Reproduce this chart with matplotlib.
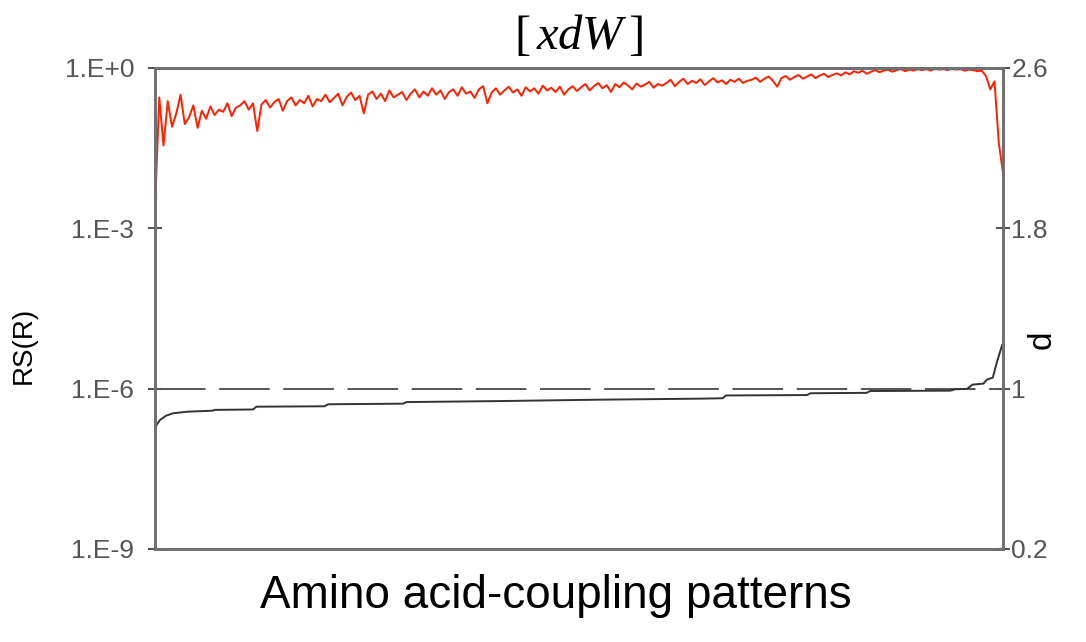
import numpy as np
import matplotlib.pyplot as plt

plt.rcParams["font.family"] = ["Liberation Sans", "DejaVu Sans"]
plt.rcParams["mathtext.fontset"] = "custom"
plt.rcParams["mathtext.rm"] = "Liberation Serif"
plt.rcParams["mathtext.it"] = "Liberation Serif:italic"

# RS(R) for the sorted patterns, log10 values, one sample every 5 patterns
rs_log = [
    -2.66, -0.55, -1.45, -0.62, -1.10, -0.85, -0.50, -1.05, -0.92, -0.70,
    -1.12, -0.80, -0.95, -0.72, -0.88, -0.78, -0.82, -0.66, -0.90, -0.74,
    -0.70, -0.62, -0.78, -0.66, -1.18, -0.68, -0.60, -0.74, -0.64, -0.58,
    -0.80, -0.62, -0.55, -0.70, -0.60, -0.66, -0.52, -0.72, -0.58, -0.62,
    -0.50, -0.64, -0.56, -0.48, -0.70, -0.54, -0.46, -0.60, -0.52, -0.85,
    -0.50, -0.44, -0.58, -0.48, -0.62, -0.42, -0.55, -0.50, -0.45, -0.60,
    -0.48, -0.40, -0.55, -0.44, -0.52, -0.38, -0.50, -0.42, -0.58, -0.45,
    -0.40, -0.52, -0.36, -0.48, -0.44, -0.56, -0.40, -0.34, -0.66, -0.46,
    -0.38, -0.50, -0.42, -0.35, -0.46, -0.40, -0.52, -0.36, -0.44, -0.38,
    -0.48, -0.33, -0.42, -0.37, -0.45, -0.35, -0.50, -0.40, -0.34, -0.43,
    -0.36, -0.30, -0.42, -0.34, -0.28, -0.38, -0.32, -0.45, -0.30, -0.36,
    -0.27, -0.33, -0.40, -0.29, -0.35, -0.31, -0.26, -0.37, -0.30, -0.33,
    -0.28, -0.22, -0.34, -0.26, -0.20, -0.30, -0.24, -0.28, -0.21, -0.32,
    -0.25, -0.19, -0.27, -0.23, -0.30, -0.22, -0.26, -0.20, -0.28, -0.24,
    -0.22, -0.18, -0.26, -0.20, -0.16, -0.24, -0.35, -0.19, -0.15, -0.22,
    -0.17, -0.13, -0.20, -0.16, -0.12, -0.19, -0.14, -0.11, -0.17, -0.13,
    -0.10, -0.14, -0.08, -0.12, -0.06, -0.09, -0.05, -0.11, -0.07, -0.04,
    -0.08, -0.05, -0.03, -0.07, -0.04, -0.02, -0.06, -0.03, -0.05, -0.02,
    -0.04, -0.02, -0.05, -0.01, -0.03, -0.02, -0.04, -0.01, -0.03, -0.02,
    -0.05, -0.03, -0.04, -0.06, -0.05, -0.15, -0.40, -0.25, -1.40, -1.97,
]
rs_step = 5

# d for the same patterns (rank, value)
d_rank = [0, 2, 6, 13, 21, 38, 68, 70, 115, 119, 199, 203, 291, 295, 405,
          522, 639, 666, 670, 765, 769, 835, 839, 933, 939, 953, 959, 972,
          976, 983, 988, 994]
d_vals = [0.794, 0.82, 0.844, 0.865, 0.877, 0.885, 0.890, 0.894, 0.896,
          0.910, 0.912, 0.922, 0.925, 0.933, 0.938, 0.945, 0.950, 0.952,
          0.966, 0.968, 0.977, 0.979, 0.988, 0.990, 0.997, 0.999, 1.02,
          1.025, 1.045, 1.055, 1.135, 1.218]
d_ref = 1.0

left_ticks = [1e-9, 1e-6, 1e-3, 1e0]
left_labels = ["1.E-9", "1.E-6", "1.E-3", "1.E+0"]
right_ticks = [0.2, 1.0, 1.8, 2.6]
right_labels = ["0.2", "1", "1.8", "2.6"]

rank = np.arange(len(rs_log)) * rs_step
rs = 10.0 ** np.array(rs_log)

fig = plt.figure(figsize=(10.86, 6.42), dpi=100)
ax = fig.add_axes([0.1427, 0.1449, 0.7809, 0.7492])
ax2 = ax.twinx()

ax.plot(rank, rs, color="#ff2000", lw=1.4, zorder=3)
ax.set_yscale("log")
ax.set_ylim(1e-9, 1e0)
ax.set_xlim(0, rank[-1])
ax.set_yticks(left_ticks)
ax.set_yticklabels(left_labels)
ax.minorticks_off()
ax.set_xticks([])

ax2.axhline(d_ref, color="#555555", lw=1.4, dashes=(26, 7), zorder=1)
ax2.plot(d_rank, d_vals, color="#333333", lw=1.4, zorder=2)
ax2.set_ylim(0.2, 2.6)
ax2.set_yticks(right_ticks)
ax2.set_yticklabels(right_labels)

for a in (ax, ax2):
    for s in a.spines.values():
        s.set_color("#707070")
        s.set_linewidth(2)
ax.tick_params(axis="y", direction="inout", length=10, width=1.5, color="#555555",
               labelsize=19, labelcolor="#555555", pad=10)
ax2.tick_params(axis="y", direction="inout", length=10, width=1.5, color="#555555",
                labelsize=19, labelcolor="#555555", pad=1)

ax.set_ylabel("RS(R)", fontsize=20, labelpad=0)
ax.yaxis.set_label_coords(-0.139, 0.424)
ax2.set_ylabel("d", fontsize=24, rotation=90, va="center")
ax2.yaxis.set_label_coords(1.046, 0.435)

fig.text(556 / 1086, 1 - 596 / 642, "Amino acid-coupling patterns",
         fontsize=33, ha="center", va="center")
fig.text(578 / 1086, 1 - 36 / 642, r"$[\,xdW\,]$", fontsize=35,
         ha="center", va="center")

fig.savefig("out.png", dpi=100)
